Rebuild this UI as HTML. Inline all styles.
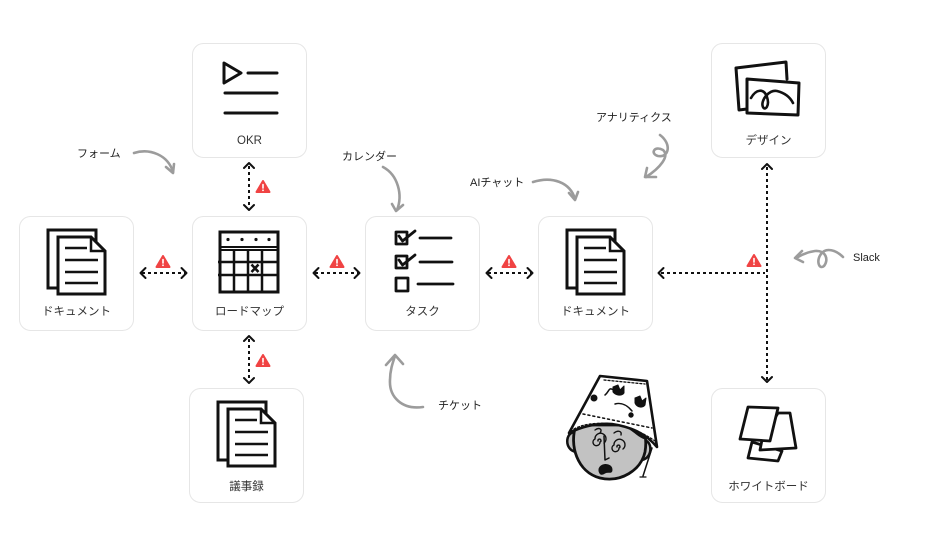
<!DOCTYPE html>
<html><head><meta charset="utf-8">
<style>
html,body{margin:0;padding:0;background:#fff;}
svg{display:block;}
text{font-family:"Liberation Sans","Noto Sans CJK JP",sans-serif;}
</style></head>
<body>
<svg width="950" height="554" viewBox="0 0 950 554" xmlns="http://www.w3.org/2000/svg">
<defs>
  <g id="warn">
    <path d="M0,-6 L6.5,5 L-6.5,5 Z" fill="#f04343" stroke="#f04343" stroke-width="2" stroke-linejoin="round"/>
    <line x1="0" y1="-2.5" x2="0" y2="1" stroke="#fff" stroke-width="1.6" stroke-linecap="round"/>
    <circle cx="0" cy="3.3" r="0.9" fill="#fff"/>
  </g>
  <g id="doc" fill="#fff" stroke="#111" stroke-linejoin="miter">
    <rect x="29" y="14" width="48" height="58" stroke-width="3"/>
    <path d="M39,21 H72 L86,35 V78 H39 Z" stroke-width="3"/>
    <path d="M72,21 V35 H86" stroke-width="2.5" fill="none"/>
    <g stroke-width="2.5" fill="none">
      <line x1="46" y1="32" x2="68" y2="32"/>
      <line x1="46" y1="44" x2="79" y2="44"/>
      <line x1="46" y1="56" x2="79" y2="56"/>
      <line x1="46" y1="67" x2="79" y2="67"/>
    </g>
  </g>
</defs>

<!-- boxes -->
<g fill="#fff" stroke="#e6e6e6" stroke-width="1">
  <rect x="192.5" y="43.5" width="114" height="114" rx="11"/>
  <rect x="711.5" y="43.5" width="114" height="114" rx="11"/>
  <rect x="19.5" y="216.5" width="114" height="114" rx="11"/>
  <rect x="192.5" y="216.5" width="114" height="114" rx="11"/>
  <rect x="365.5" y="216.5" width="114" height="114" rx="11"/>
  <rect x="538.5" y="216.5" width="114" height="114" rx="11"/>
  <rect x="189.5" y="388.5" width="114" height="114" rx="11"/>
  <rect x="711.5" y="388.5" width="114" height="114" rx="11"/>
</g>

<!-- OKR icon -->
<g transform="translate(192,43)" fill="none" stroke="#111" stroke-width="3" stroke-linecap="round" stroke-linejoin="round">
  <path d="M32,20 L49,30 L32,40 Z"/>
  <line x1="56" y1="30" x2="85" y2="30"/>
  <line x1="33" y1="50" x2="85" y2="50"/>
  <line x1="33" y1="70" x2="85" y2="70"/>
</g>

<!-- docs -->
<use href="#doc" x="19" y="216"/>
<use href="#doc" x="538" y="216"/>
<use href="#doc" x="189" y="388"/>

<!-- calendar -->
<g transform="translate(192,216)" fill="none" stroke="#111" stroke-linecap="butt">
  <rect x="28" y="16" width="58" height="60" stroke-width="3"/>
  <line x1="28" y1="31" x2="86" y2="31" stroke-width="2"/>
  <line x1="28" y1="34" x2="86" y2="34" stroke-width="2"/>
  <g stroke-width="2.5">
    <line x1="42" y1="34" x2="42" y2="76"/>
    <line x1="56" y1="34" x2="56" y2="76"/>
    <line x1="70" y1="34" x2="70" y2="76"/>
    <line x1="26" y1="46" x2="86" y2="46"/>
    <line x1="26" y1="59" x2="86" y2="59"/>
  </g>
  <g fill="#111" stroke="none">
    <circle cx="36" cy="23.5" r="1.6"/>
    <circle cx="50" cy="23.5" r="1.6"/>
    <circle cx="64" cy="23.5" r="1.6"/>
    <circle cx="77" cy="23.5" r="1.6"/>
  </g>
  <path d="M59.5,48.5 L66.5,56 M66.5,48.5 L59.5,56" stroke-width="2.6"/>
</g>

<!-- task icon -->
<g transform="translate(365,216)" fill="none" stroke="#111" stroke-width="2.8" stroke-linecap="round" stroke-linejoin="round">
  <rect x="31" y="16" width="11" height="12"/>
  <rect x="31" y="40" width="11" height="12"/>
  <rect x="31" y="62" width="12" height="13"/>
  <path d="M34,20 L37.5,25 L50,15"/>
  <path d="M34,44 L37.5,49 L50,39"/>
  <line x1="55" y1="22" x2="86" y2="22"/>
  <line x1="55" y1="46" x2="87" y2="46"/>
  <line x1="53" y1="68" x2="88" y2="68"/>
</g>

<!-- design icon -->
<g transform="translate(711,43)" stroke="#111" stroke-width="3" stroke-linejoin="round" stroke-linecap="round">
  <path d="M25,25 L75,19 L76,36 M36,66 L28,67 L25,25" fill="none"/>
  <path d="M36,36 L88,40 L87,72 L36,70 Z" fill="#fff"/>
  <path d="M40,55 C45,46 53,45 56,54 C59,63 54,68 52,64 C49,58 58,46 66,48 C74,50 79,54 82,60" fill="none" stroke-width="2.6"/>
</g>

<!-- whiteboard icon -->
<g stroke="#111" stroke-width="2.8" stroke-linejoin="round" fill="#fff">
  <path d="M752,442 L782,451 L778,461 L748,458 Z"/>
  <path d="M778,413 L790,413 L796,448 L760,450 L762,440 Z"/>
  <path d="M748,407 L778,408 L770,441 L740,439 Z"/>
</g>

<!-- labels -->
<g font-size="11.5" fill="#333" text-anchor="middle">
  <text x="249.5" y="144">OKR</text>
  <text x="768.5" y="144">デザイン</text>
  <text x="76.5" y="315">ドキュメント</text>
  <text x="249.5" y="315">ロードマップ</text>
  <text x="422.5" y="315">タスク</text>
  <text x="595.5" y="315">ドキュメント</text>
  <text x="246.5" y="490">議事録</text>
  <text x="768.5" y="490">ホワイトボード</text>
</g>

<!-- dotted connectors -->
<g fill="none" stroke="#111" stroke-width="2" stroke-linejoin="round">
  <g stroke-dasharray="3 3">
    <line x1="142" y1="273" x2="185" y2="273"/>
    <line x1="315" y1="273" x2="358" y2="273"/>
    <line x1="488" y1="273" x2="531" y2="273"/>
    <line x1="249" y1="166" x2="249" y2="208"/>
    <line x1="249" y1="339" x2="249" y2="381"/>
    <line x1="767" y1="167" x2="767" y2="380"/>
    <line x1="661" y1="273" x2="765" y2="273"/>
  </g>
  <g stroke-linecap="round">
    <path d="M145.5,268 L140.5,273 L145.5,278 M181.5,268 L186.5,273 L181.5,278"/>
    <path d="M318.5,268 L313.5,273 L318.5,278 M354.5,268 L359.5,273 L354.5,278"/>
    <path d="M491.5,268 L486.5,273 L491.5,278 M527.5,268 L532.5,273 L527.5,278"/>
    <path d="M244,168 L249,163 L254,168 M244,205 L249,210 L254,205"/>
    <path d="M244,341 L249,336 L254,341 M244,378 L249,383 L254,378"/>
    <path d="M762,169 L767,164 L772,169 M762,377 L767,382 L772,377"/>
    <path d="M663.5,268 L658.5,273 L663.5,278"/>
  </g>
</g>

<!-- warnings -->
<use href="#warn" x="163" y="262"/>
<use href="#warn" x="337" y="262"/>
<use href="#warn" x="509" y="262"/>
<use href="#warn" x="263" y="187"/>
<use href="#warn" x="263" y="361"/>
<use href="#warn" x="754" y="261"/>

<!-- annotations -->
<g font-size="11" fill="#222">
  <text x="77" y="157">フォーム</text>
  <text x="342" y="160">カレンダー</text>
  <text x="596" y="121">アナリティクス</text>
  <text x="470" y="186">AIチャット</text>
  <text x="853" y="261">Slack</text>
  <text x="438" y="409">チケット</text>
</g>

<g fill="none" stroke="#9c9c9c" stroke-width="2.6" stroke-linecap="round" stroke-linejoin="round">
  <path d="M134,153 C150,148 168,155 173,172"/>
  <path d="M166,167 L173,173 L174,164"/>
  <path d="M383,167 C398,175 403,195 397,210"/>
  <path d="M392,204 L396,211 L403,205"/>
  <path d="M533,182 C552,176 570,182 575,199"/>
  <path d="M569,193 L575,200 L578,192"/>
  <path d="M660,135 C672,144 669,158 658,156 C650,154 654,145 663,150 C670,156 660,168 646,177"/>
  <path d="M647,168 L645,177 L656,177"/>
  <path d="M843,257 C836,250 826,247 821,254 C816,261 819,270 824,266 C829,260 826,250 815,251 C808,252 801,255 796,258"/>
  <path d="M802,251 L795,258 L803,262"/>
  <path d="M423,407 C402,410 389,397 390,380 C390,370 393,362 395,356"/>
  <path d="M386,365 L395,355 L403,364"/>
</g>

<!-- face illustration -->
<g stroke="#111" stroke-linejoin="round" stroke-linecap="round">
  <path d="M575,432 C565,432 564,450 576,452" fill="#c2c2c2" stroke-width="2.5"/>
  <path d="M643,440 C653,440 653,458 642,460" fill="#c2c2c2" stroke-width="2.5"/>
  <path d="M576,425 C569,445 577,472 600,478 C621,483 641,470 645,452 C647,440 645,430 640,425 Z" fill="#c2c2c2" stroke-width="2.8"/>
  <path d="M626,427 C633,430 638,437 645,439 L645,428 Z" fill="#111" stroke-width="1"/>
  <path d="M600,376 L647,381 L657,447 C646,434 632,427 612,424 C595,423 581,427 569,433 Z" fill="#fff" stroke-width="2.6"/>
  <path d="M583,414 L652,428" fill="none" stroke-width="1.5" stroke-dasharray="2 3"/>
  <path d="M604,380 L645,384" fill="none" stroke-width="1.3" stroke-dasharray="2 2"/>
  <path d="M574,429 C590,420 625,420 655,441" fill="none" stroke-width="1.3" stroke-dasharray="2 2"/>
  <g fill="#111" stroke-width="1">
    <path d="M613,387 L618,385 L620,390 L624,386 L624,393 C622,396 616,396 613,392 Z"/>
    <path d="M635,398 L640,396 L642,401 L646,398 L645,405 C643,408 637,408 635,403 Z"/>
    <circle cx="594" cy="398" r="3"/>
    <circle cx="631" cy="415" r="2.2"/>
    <path d="M605,395 C610,391 608,386 615,391" fill="none" stroke-width="1.5"/>
    <path d="M615,404 C622,402 628,406 632,411" fill="none" stroke-width="1.5"/>
  </g>
  <g fill="none" stroke-width="1.4">
    <path d="M598,441 a1.5,1.5 0 1 1 2,1 a3.5,3.5 0 1 1 -5,-3 a5.5,5.5 0 1 1 9,4"/>
    <path d="M617,447 a1.5,1.5 0 1 1 2,1 a3.5,3.5 0 1 1 -5,-3 a5.5,5.5 0 1 1 9,4"/>
    <path d="M595,430 C599,427 603,429 600,433"/>
    <path d="M614,433 C618,430 622,431 621,435"/>
  </g>
  <path d="M604,436 L605,460 L609,458" fill="none" stroke-width="1.5"/>
  <path d="M599,471 C598,463 612,462 612,470 C612,474 608,471 605,473 C602,475 600,475 599,471 Z" fill="#111" stroke-width="1"/>
  <path d="M652,448 L643,476" fill="none" stroke-width="1.5"/>
  <path d="M640,477 L646,477" fill="none" stroke-width="1.2"/>
</g>
</svg>
</body></html>
